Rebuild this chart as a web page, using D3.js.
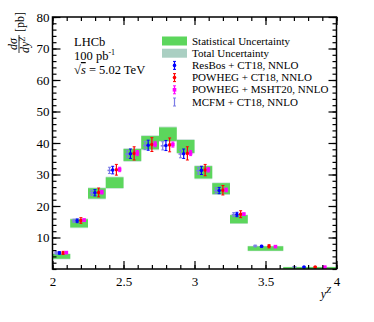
<!DOCTYPE html>
<html>
<head>
<meta charset="utf-8">
<script src="https://cdn.jsdelivr.net/npm/d3@7"></script>
<style>
body { margin: 0; background: #fff; }
svg text { font-family: "Liberation Serif", "Times New Roman", serif; fill: #000; }
</style>
</head>
<body>
<script>
// bins in y^Z
const binLo = [2.0, 2.125, 2.25, 2.375, 2.5, 2.625, 2.75, 2.875, 3.0, 3.125, 3.25, 3.375, 3.625];
const binHi = [2.125, 2.25, 2.375, 2.5, 2.625, 2.75, 2.875, 3.0, 3.125, 3.25, 3.375, 3.625, 4.0];

// measurement (centre of boxes) with stat and total half widths
const dataVal = [4.0, 14.5, 24.0, 27.4, 36.2, 40.1, 42.8, 38.9, 30.7, 25.5, 15.8, 6.5, 0.3];
const statErr = [0.75, 1.3, 1.65, 1.7, 1.9, 2.1, 2.15, 2.05, 1.95, 1.75, 1.3, 0.7, 0.3];
const totErr = [0.95, 1.55, 1.9, 1.95, 2.2, 2.4, 2.45, 2.35, 2.2, 2.0, 1.5, 0.85, 0.4];

// predictions
const resbos = [5.1, 15.3, 24.2, 31.4, 36.6, 39.3, 39.2, 36.6, 31.3, 24.9, 17.3, 7.2, 0.6];
const resbosErr = [0.4, 0.6, 1.0, 1.2, 1.5, 1.6, 1.6, 1.5, 1.3, 1.0, 0.7, 0.3, 0.05];
const powCT = [5.1, 15.4, 24.3, 31.5, 36.7, 39.5, 39.4, 36.7, 31.4, 25.0, 17.4, 7.2, 0.6];
const powCTErr = [0.5, 0.9, 1.4, 1.7, 2.1, 2.2, 2.2, 2.1, 1.8, 1.5, 1.1, 0.5, 0.1];
const powMS = [5.2, 15.5, 24.4, 31.6, 36.8, 39.6, 39.5, 36.8, 31.5, 25.1, 17.4, 7.1, 0.6];
const powMSErr = [0.3, 0.4, 0.6, 0.7, 0.8, 0.8, 0.8, 0.8, 0.7, 0.6, 0.4, 0.2, 0.05];
const mcfm = [5.1, 15.3, 24.2, 31.3, 36.5, 39.2, 39.1, 36.5, 31.2, 24.9, 17.3, 7.3, 0.7];
const mcfmErr = [0.4, 0.5, 0.8, 1.0, 1.2, 1.3, 1.3, 1.2, 1.1, 0.9, 0.6, 0.3, 0.05];

const xTicks = [2, 2.5, 3, 3.5, 4];
const yTicks = [10, 20, 30, 40, 50, 60, 70, 80];

const legendLabels = ["Statistical Uncertainty", "Total Uncertainty",
	"ResBos + CT18, NNLO", "POWHEG + CT18, NNLO", "POWHEG + MSHT20, NNLO", "MCFM + CT18, NNLO"];

const green = "#5cd65c";
const grey = "#aacfc2";

const largeur = 374, hauteur = 322;
const x = d3.scaleLinear().domain([2, 4]).range([52.5, 336.5]);
const y = d3.scaleLinear().domain([0, 80]).range([269, 17]);

const svg = d3.select("body").append("svg")
	.attr("width", largeur)
	.attr("height", hauteur);

// uncertainty boxes
svg.append("g").selectAll("rect")
	.data(binLo)
	.join("rect")
	.attr("x", (d, i) => x(d))
	.attr("width", (d, i) => x(binHi[i]) - x(d))
	.attr("y", (d, i) => y(dataVal[i] + totErr[i]))
	.attr("height", (d, i) => y(dataVal[i] - totErr[i]) - y(dataVal[i] + totErr[i]))
	.attr("fill", grey)
	.attr("opacity", 0.6);

svg.append("g").selectAll("rect")
	.data(binLo)
	.join("rect")
	.attr("x", (d, i) => x(d))
	.attr("width", (d, i) => x(binHi[i]) - x(d))
	.attr("y", (d, i) => y(dataVal[i] + statErr[i]))
	.attr("height", (d, i) => y(dataVal[i] - statErr[i]) - y(dataVal[i] + statErr[i]))
	.attr("fill", green);

// predictions with error bars
const series = [
	{ vals: mcfm, errs: mcfmErr, color: "#7b7be6", frac: 0.21, shape: "dash" },
	{ vals: resbos, errs: resbosErr, color: "#0000ff", frac: 0.39, shape: "circle" },
	{ vals: powCT, errs: powCTErr, color: "#ff0000", frac: 0.6, shape: "circle" },
	{ vals: powMS, errs: powMSErr, color: "#ff00ff", frac: 0.78, shape: "square" }
];

series.forEach((s) => {
	const g = svg.append("g");
	const px = (i) => x(binLo[i] + s.frac * (binHi[i] - binLo[i]));
	s.vals.forEach((v, i) => {
		const cx = px(i);
		g.append("line")
			.attr("x1", cx).attr("x2", cx)
			.attr("y1", y(v - s.errs[i])).attr("y2", y(v + s.errs[i]))
			.attr("stroke", s.color).attr("stroke-width", 1.2);
		[v - s.errs[i], v + s.errs[i]].forEach((e) => {
			g.append("line")
				.attr("x1", cx - 1.5).attr("x2", cx + 1.5)
				.attr("y1", y(e)).attr("y2", y(e))
				.attr("stroke", s.color).attr("stroke-width", 1);
		});
		if (s.shape == "circle") {
			g.append("circle").attr("cx", cx).attr("cy", y(v)).attr("r", 1.8).attr("fill", s.color);
		} else if (s.shape == "square") {
			g.append("rect").attr("x", cx - 1.8).attr("y", y(v) - 1.8)
				.attr("width", 3.6).attr("height", 3.6).attr("fill", s.color);
		} else {
			g.append("line").attr("x1", cx - 2).attr("x2", cx + 2)
				.attr("y1", y(v)).attr("y2", y(v))
				.attr("stroke", s.color).attr("stroke-width", 1.5);
		}
	});
});

// axes: ticks inside the frame
const xMinor = d3.range(20, 41).map((d) => d / 10);
const yMinor = d3.range(0, 41).map((d) => d * 2);

function axe(gen, pos, scale, vals, size, labels) {
	const a = gen(scale).tickValues(vals).tickSizeInner(-size).tickSizeOuter(0);
	if (!labels) a.tickFormat("");
	else a.tickFormat((d) => String(d));
	const g = svg.append("g").attr("transform", pos).call(a);
	g.select(".domain").remove();
	g.selectAll(".tick line").attr("stroke", "#000").attr("stroke-width", 1.2);
	return g;
}

axe(d3.axisBottom, `translate(0,${y(0)})`, x, xMinor, 4, false);
axe(d3.axisTop, `translate(0,${y(80)})`, x, xMinor, 4, false);
axe(d3.axisTop, `translate(0,${y(80)})`, x, xTicks, 8, false);
const gx = axe(d3.axisBottom, `translate(0,${y(0)})`, x, xTicks, 8, true);
gx.call((g) => g.selectAll("text").attr("dy", "0.71em").attr("y", 8)
	.style("font-size", "13px").style("font-family", "Liberation Serif"));

axe(d3.axisLeft, `translate(${x(2)},0)`, y, yMinor, 4, false);
axe(d3.axisRight, `translate(${x(4)},0)`, y, yMinor, 4, false);
axe(d3.axisRight, `translate(${x(4)},0)`, y, yTicks, 8, false);
const gy = axe(d3.axisLeft, `translate(${x(2)},0)`, y, yTicks, 8, true);
gy.call((g) => g.selectAll("text").attr("x", -3)
	.style("font-size", "13px").style("font-family", "Liberation Serif"));

// frame
svg.append("rect")
	.attr("x", x(2)).attr("y", y(80))
	.attr("width", x(4) - x(2)).attr("height", y(0) - y(80))
	.attr("fill", "none").attr("stroke", "#000").attr("stroke-width", 1.5);

// x title
const xt = svg.append("text").attr("x", 331).attr("y", 298)
	.attr("text-anchor", "end").style("font-size", "12px").style("font-style", "italic");
xt.append("tspan").text("y");
xt.append("tspan").attr("dy", -5).style("font-size", "9px").style("font-style", "italic").text("Z");

// y title (rotated)
const yt = svg.append("g").attr("transform", "translate(19,44) rotate(-90)");
yt.append("text").attr("x", 0).attr("y", -2).attr("text-anchor", "middle")
	.style("font-size", "12px").style("font-style", "italic").text("dσ");
yt.append("line").attr("x1", -9).attr("x2", 9).attr("y1", 0).attr("y2", 0)
	.attr("stroke", "#000").attr("stroke-width", 0.8);
const den = yt.append("text").attr("x", -1).attr("y", 10).attr("text-anchor", "middle")
	.style("font-size", "12px").style("font-style", "italic");
den.append("tspan").text("dy");
den.append("tspan").attr("dy", -4).style("font-size", "8px").text("Z");
yt.append("text").attr("x", 12).attr("y", 5).style("font-size", "12px").text("[pb]");

// LHCb text
const info = svg.append("g").style("font-size", "12.5px");
info.append("text").attr("x", 74).attr("y", 46).text("LHCb");
const lumi = info.append("text").attr("x", 74).attr("y", 60);
lumi.append("tspan").text("100 pb");
lumi.append("tspan").attr("dy", -5).style("font-size", "8px").text("-1");
const rs = info.append("text").attr("x", 74).attr("y", 74);
rs.append("tspan").text("√");
rs.append("tspan").style("text-decoration", "overline").style("font-style", "italic").text("s");
rs.append("tspan").attr("dy", 0).text(" = 5.02 TeV");

// legend
const leg = svg.append("g");
const rowY = (i) => 41 + i * 12.2;
leg.append("rect").attr("x", 162).attr("y", rowY(0) - 4.5).attr("width", 25).attr("height", 9).attr("fill", green);
leg.append("rect").attr("x", 162).attr("y", rowY(1) - 4.5).attr("width", 25).attr("height", 9).attr("fill", grey);
series.slice(1).concat(series.slice(0, 1)).forEach((s, k) => {
	const cy = rowY(k + 2), cx = 174.5;
	leg.append("line").attr("x1", cx).attr("x2", cx).attr("y1", cy - 4).attr("y2", cy + 4)
		.attr("stroke", s.color).attr("stroke-width", 1.2);
	[cy - 4, cy + 4].forEach((e) => {
		leg.append("line").attr("x1", cx - 1.5).attr("x2", cx + 1.5).attr("y1", e).attr("y2", e)
			.attr("stroke", s.color).attr("stroke-width", 1);
	});
	if (s.shape == "circle") {
		leg.append("circle").attr("cx", cx).attr("cy", cy).attr("r", 1.8).attr("fill", s.color);
	} else if (s.shape == "square") {
		leg.append("rect").attr("x", cx - 1.8).attr("y", cy - 1.8).attr("width", 3.6).attr("height", 3.6).attr("fill", s.color);
	}
});
leg.selectAll("text.lab")
	.data(legendLabels)
	.join("text")
	.attr("class", "lab")
	.attr("x", 192)
	.attr("y", (d, i) => rowY(i) + 3.5)
	.style("font-size", "11px")
	.text((d) => d);
</script>
</body>
</html>
